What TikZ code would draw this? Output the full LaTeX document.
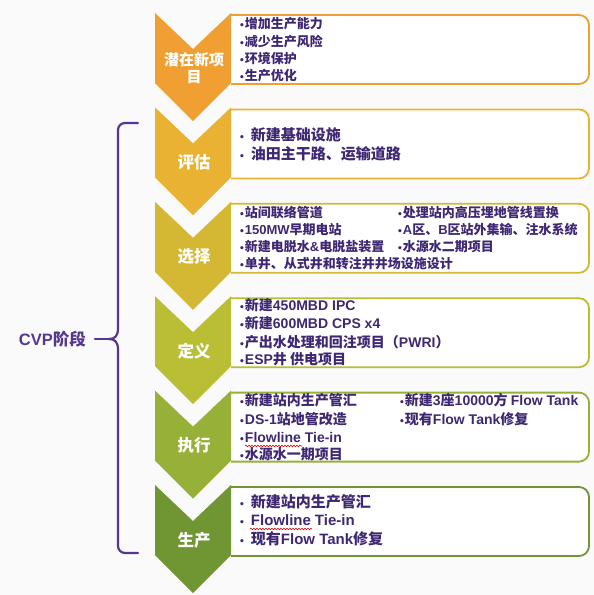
\documentclass[tikz,border=0pt]{standalone}
\usepackage{fontspec}
\setmainfont{Noto Sans CJK SC}
\newfontfamily\dvfont{DejaVu Sans}
\newfontfamily\latfont{Liberation Sans}[BoldFont={Liberation Sans Bold}]
\usetikzlibrary{decorations.pathmorphing}
\definecolor{bgc}{RGB}{250,250,250}
\definecolor{cA}{RGB}{240,160,50}
\definecolor{cB}{RGB}{234,178,50}
\definecolor{cC}{RGB}{212,184,52}
\definecolor{cD}{RGB}{186,190,52}
\definecolor{cE}{RGB}{150,176,56}
\definecolor{cF}{RGB}{112,150,52}
\definecolor{txt}{RGB}{62,40,115}
\definecolor{brc}{RGB}{85,55,145}
\newcommand\bul{{\dvfont\fontsize{9}{9}\selectfont •}}
\newcommand\la[1]{{\latfont\bfseries #1}}
\tikzset{
  chev/.style={fill=#1},
  stagebox/.style={fill=white, draw=#1, line width=1.8pt, rounded corners=10pt},
  chevlab/.style={text=white, font=\bfseries\fontsize{16.5}{18}\selectfont, align=center, inner sep=0pt},
  item/.style={anchor=west, text=txt, inner sep=0pt, font=\bfseries\fontsize{#1}{#1}\selectfont},
  brace/.style={draw=brc, line width=2.2pt, line cap=round},
  wavy/.style={draw=red!85!black, line width=0.6pt, decorate, decoration={snake, segment length=3pt, amplitude=0.8pt}}
}
\begin{document}
\begin{tikzpicture}[x=1pt,y=-1pt]
\useasboundingbox (0,0) rectangle (594,595);
\fill[bgc] (0,0) rectangle (594,595);

% boxes
\filldraw[stagebox=cA] (231,15) -- (589,15) -- (589,84) -- (231,84);
\filldraw[stagebox=cB] (231,109.4) -- (589,109.4) -- (589,178.4) -- (231,178.4);
\filldraw[stagebox=cC] (231,203.8) -- (589,203.8) -- (589,272.8) -- (231,272.8);
\filldraw[stagebox=cD] (231,298.2) -- (589,298.2) -- (589,367.2) -- (231,367.2);
\filldraw[stagebox=cE] (231,392.6) -- (589,392.6) -- (589,461.6) -- (231,461.6);
\filldraw[stagebox=cF] (231,487) -- (589,487) -- (589,556) -- (231,556);

% chevrons
\fill[chev=cA] (155,13) -- (193,49) -- (231,13) -- (231,83) -- (193,121) -- (155,83) -- cycle;
\fill[chev=cB] (155,107.4) -- (193,143.4) -- (231,107.4) -- (231,177.4) -- (193,215.4) -- (155,177.4) -- cycle;
\fill[chev=cC] (155,201.8) -- (193,237.8) -- (231,201.8) -- (231,271.8) -- (193,309.8) -- (155,271.8) -- cycle;
\fill[chev=cD] (155,296.2) -- (193,332.2) -- (231,296.2) -- (231,366.2) -- (193,404.2) -- (155,366.2) -- cycle;
\fill[chev=cE] (155,390.6) -- (193,426.6) -- (231,390.6) -- (231,460.6) -- (193,498.6) -- (155,460.6) -- cycle;
\fill[chev=cF] (155,485) -- (193,521) -- (231,485) -- (231,555) -- (193,593) -- (155,555) -- cycle;

% chevron labels
\node[chevlab, font=\bfseries\fontsize{15}{17}\selectfont] (lab1) at (194,68.5) {潜在新项\\目};
\node[chevlab] (lab2) at (194,162.4) {评估};
\node[chevlab] (lab3) at (194,256.8) {选择};
\node[chevlab] (lab4) at (194,351.2) {定义};
\node[chevlab] (lab5) at (194,445.6) {执行};
\node[chevlab] (lab6) at (194,540) {生产};

% box 1
\node[item=13] (t11) at (239,24) {\bul 增加生产能力};
\node[item=13] (t12) at (239,42) {\bul 减少生产风险};
\node[item=13] (t13) at (239,59) {\bul 环境保护};
\node[item=13] (t14) at (239,76) {\bul 生产优化};

% box 2
\node[item=15] (t21) at (239,135) {\bul\hspace{6pt}新建基础设施};
\node[item=15] (t22) at (239,154) {\bul\hspace{6pt}油田主干路、运输道路};

% box 3
\node[item=13] (t31) at (239,213) {\bul 站间联络管道};
\node[item=13] (t32) at (239,230) {\bul \la{150MW}早期电站};
\node[item=13] (t33) at (239,247) {\bul 新建电脱水\la{\&}电脱盐装置};
\node[item=13] (t34) at (239,264) {\bul 单井、从式井和转注井井场设施设计};
\node[item=13] (t35) at (397,213) {\bul 处理站内高压埋地管线置换};
\node[item=13] (t36) at (397,230) {\bul \la{A}区、\la{B}区站外集输、注水系统};
\node[item=13] (t37) at (397,247) {\bul 水源水二期项目};

% box 4
\node[item=14] (t41) at (239,305) {\bul 新建\la{450MBD\hspace{4pt}IPC}};
\node[item=14] (t42) at (239,323) {\bul 新建\la{600MBD CPS x4}};
\node[item=14] (t43) at (239,342) {\bul 产出水处理和回注项目（\la{PWRI}）};
\node[item=14] (t44) at (239,359) {\bul \la{ESP}井 供电项目};

% box 5
\node[item=14] (t51) at (239,400) {\bul 新建站内生产管汇};
\node[item=14] (t52) at (239,419) {\bul \la{DS-1}站地管改造};
\node[item=14] (t53) at (239,437) {\bul \la{Flowline Tie-in}};
\node[item=14] (t54) at (239,454) {\bul 水源水一期项目};
\node[item=14] (t55) at (399,400) {\bul 新建\la{3}座\la{10000}方 \la{Flow Tank}};
\node[item=14] (t56) at (399,419) {\bul 现有\la{Flow Tank}修复};
\draw[wavy] (245,446) -- (302,446);

% box 6
\node[item=15] (t61) at (239,502) {\bul\hspace{6pt}新建站内生产管汇};
\node[item=15] (t62) at (239,520) {\bul\hspace{6pt}\la{Flowline\hspace{4pt}Tie-in}};
\node[item=15] (t63) at (239,539) {\bul\hspace{6pt}现有\la{Flow Tank}修复};
\draw[wavy] (250,529) -- (312,529);

% brace and CVP label
\node[anchor=east, text=brc, inner sep=0pt, font=\bfseries\fontsize{16.5}{16.5}\selectfont] (cvp) at (86,339) {\la{CVP}阶段};
\coordinate (cusp) at (109,339);
\draw[brace, rounded corners=7pt] (138,123) -- (118,123) -- (118,328);
\draw[brace] (118,328) .. controls (118,336) and (115,339) .. (cusp) .. controls (115,339) and (118,342) .. (118,350);
\draw[brace, rounded corners=7pt] (118,350) -- (118,553) -- (138,553);
\draw[brace] ([xshift=9pt]cvp.east) -- (cusp);
\end{tikzpicture}
\end{document}
